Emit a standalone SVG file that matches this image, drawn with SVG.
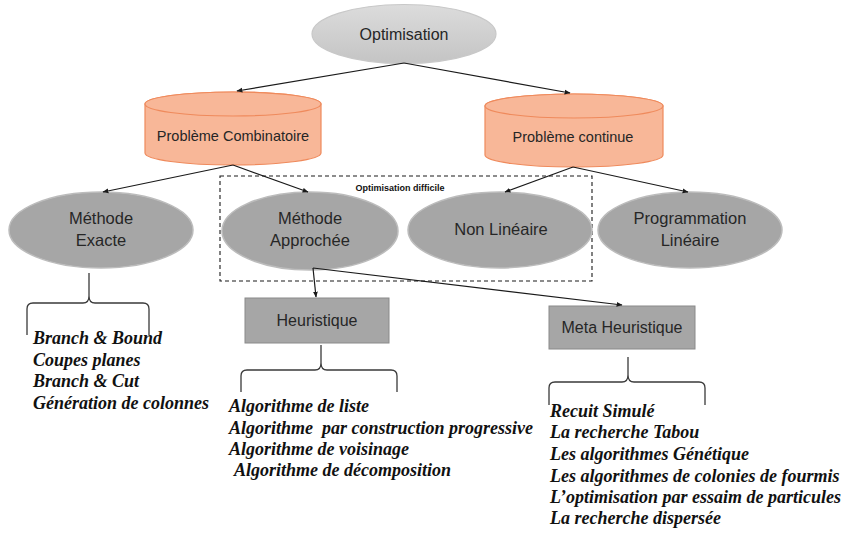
<svg xmlns="http://www.w3.org/2000/svg" width="842" height="533" viewBox="0 0 842 533">
<style>
  .lbl { font-family: "Liberation Sans", Arial, sans-serif; fill: #262626; text-anchor: middle; }
  .cyl { fill: #f8b798; stroke: #ef8a5c; stroke-width: 1.2; }
  .ell { fill: #a6a6a6; stroke: #bcbcbc; stroke-width: 1.5; }
  .box { fill: #a6a6a6; stroke: #8a8a8a; stroke-width: 1; }
  .con { stroke: #1a1a1a; stroke-width: 1.2; fill: none; marker-end: url(#arr); }
  .brace { stroke: #3a3a3a; stroke-width: 1.3; fill: none; }
  .list { font-family: "Liberation Serif", "Times New Roman", serif; font-weight: bold; font-style: italic; font-size: 18px; fill: #111; white-space: pre; }
</style>
<defs>
  <marker id="arr" viewBox="0 0 10 10" refX="9" refY="5" markerWidth="6" markerHeight="6" orient="auto" markerUnits="userSpaceOnUse">
    <path d="M0,1 L10,5 L0,9 z" fill="#1a1a1a"/>
  </marker>
  <linearGradient id="gOpt" x1="0" y1="0" x2="0" y2="1">
    <stop offset="0" stop-color="#dcdcdc"/>
    <stop offset="1" stop-color="#c4c4c4"/>
  </linearGradient>
</defs>
<rect width="842" height="533" fill="#ffffff"/>

<g id="optimisation">
  <ellipse cx="404" cy="34" rx="92" ry="29.5" fill="url(#gOpt)" stroke="#c8c8c8" stroke-width="1.2"/>
  <text class="lbl" x="404" y="40" font-size="16">Optimisation</text>
</g>

<g id="probleme-combinatoire">
  <path class="cyl" d="M145,104 L145,153 A88,12 0 0 0 321,153 L321,104 A88,12 0 0 0 145,104 Z"/>
  <ellipse class="cyl" cx="233" cy="104" rx="88" ry="12"/>
  <text class="lbl" x="233" y="141" font-size="14.5">Problème Combinatoire</text>
</g>

<g id="probleme-continue">
  <path class="cyl" d="M485,106 L485,155 A89,12 0 0 0 663,155 L663,106 A89,12 0 0 0 485,106 Z"/>
  <ellipse class="cyl" cx="574" cy="106" rx="89" ry="12"/>
  <text class="lbl" x="573" y="142" font-size="14.5">Problème continue</text>
</g>

<g id="optimisation-difficile">
  <rect x="220" y="176" width="372" height="105" fill="none" stroke="#1a1a1a" stroke-width="1.1" stroke-dasharray="4 3"/>
  <text x="400" y="191" font-family="Liberation Sans, Arial, sans-serif" font-size="9" font-weight="bold" fill="#111" text-anchor="middle">Optimisation difficile</text>
</g>

<g id="methode-exacte">
  <ellipse class="ell" cx="101" cy="230" rx="92" ry="38"/>
  <text class="lbl" x="101" y="224" font-size="16.5">Méthode</text>
  <text class="lbl" x="101" y="246" font-size="16.5">Exacte</text>
</g>

<g id="methode-approchee">
  <ellipse class="ell" cx="310" cy="231" rx="88" ry="39"/>
  <text class="lbl" x="310" y="224" font-size="16.5">Méthode</text>
  <text class="lbl" x="310" y="246" font-size="16.5">Approchée</text>
</g>

<g id="non-lineaire">
  <ellipse class="ell" cx="500" cy="230" rx="92" ry="38"/>
  <text class="lbl" x="501" y="235" font-size="16.5">Non Linéaire</text>
</g>

<g id="programmation-lineaire">
  <ellipse class="ell" cx="690" cy="230" rx="92" ry="38"/>
  <text class="lbl" x="690" y="224" font-size="16.5">Programmation</text>
  <text class="lbl" x="690" y="246" font-size="16.5">Linéaire</text>
</g>

<g id="heuristique">
  <rect class="box" x="245" y="298" width="144" height="45"/>
  <text class="lbl" x="317" y="326" font-size="16">Heuristique</text>
</g>

<g id="meta-heuristique">
  <rect class="box" x="549" y="306" width="146" height="43"/>
  <text class="lbl" x="622" y="333" font-size="16">Meta Heuristique</text>
</g>

<g id="connectors">
  <line class="con" x1="404" y1="63" x2="237" y2="91"/>
  <line class="con" x1="404" y1="63" x2="570" y2="93"/>
  <line class="con" x1="233" y1="165" x2="103" y2="192"/>
  <line class="con" x1="233" y1="165" x2="308" y2="192"/>
  <line class="con" x1="573" y1="167" x2="505" y2="192"/>
  <line class="con" x1="573" y1="167" x2="688" y2="192"/>
  <line class="con" x1="313" y1="268" x2="316" y2="297"/>
  <line class="con" x1="313" y1="268" x2="622" y2="305"/>
</g>

<g id="exacte-list">
  <path class="brace" d="M27,335 L27,309 Q27,303 33,303 L83,303 Q89,303 89,296 L89,273 M89,296 Q89,303 95,303 L143,303 Q149,303 149,309 L149,335"/>
  <text class="list" x="33" y="344">Branch &amp; Bound</text>
  <text class="list" x="33" y="366">Coupes planes</text>
  <text class="list" x="33" y="387">Branch &amp; Cut</text>
  <text class="list" x="33" y="409">Génération de colonnes</text>
</g>

<g id="heuristique-list">
  <path class="brace" d="M241,392 L241,376 Q241,370 247,370 L315,370 Q321,370 321,363 L321,345 M321,363 Q321,370 327,370 L391,370 Q397,370 397,376 L397,392"/>
  <text class="list" x="229" y="412">Algorithme de liste</text>
  <text class="list" x="229" y="434">Algorithme  par construction progressive</text>
  <text class="list" x="229" y="455">Algorithme de voisinage</text>
  <text class="list" x="234" y="476">Algorithme de décomposition</text>
</g>

<g id="meta-list">
  <path class="brace" d="M549,405 L549,388 Q549,382 555,382 L622,382 Q628,382 628,375 L628,357 M628,375 Q628,382 634,382 L699,382 Q705,382 705,388 L705,405"/>
  <text class="list" x="550" y="417">Recuit Simulé</text>
  <text class="list" x="550" y="438">La recherche Tabou</text>
  <text class="list" x="550" y="460">Les algorithmes Génétique</text>
  <text class="list" x="550" y="482">Les algorithmes de colonies de fourmis</text>
  <text class="list" x="550" y="503">L’optimisation par essaim de particules</text>
  <text class="list" x="550" y="524">La recherche dispersée</text>
</g>
</svg>
